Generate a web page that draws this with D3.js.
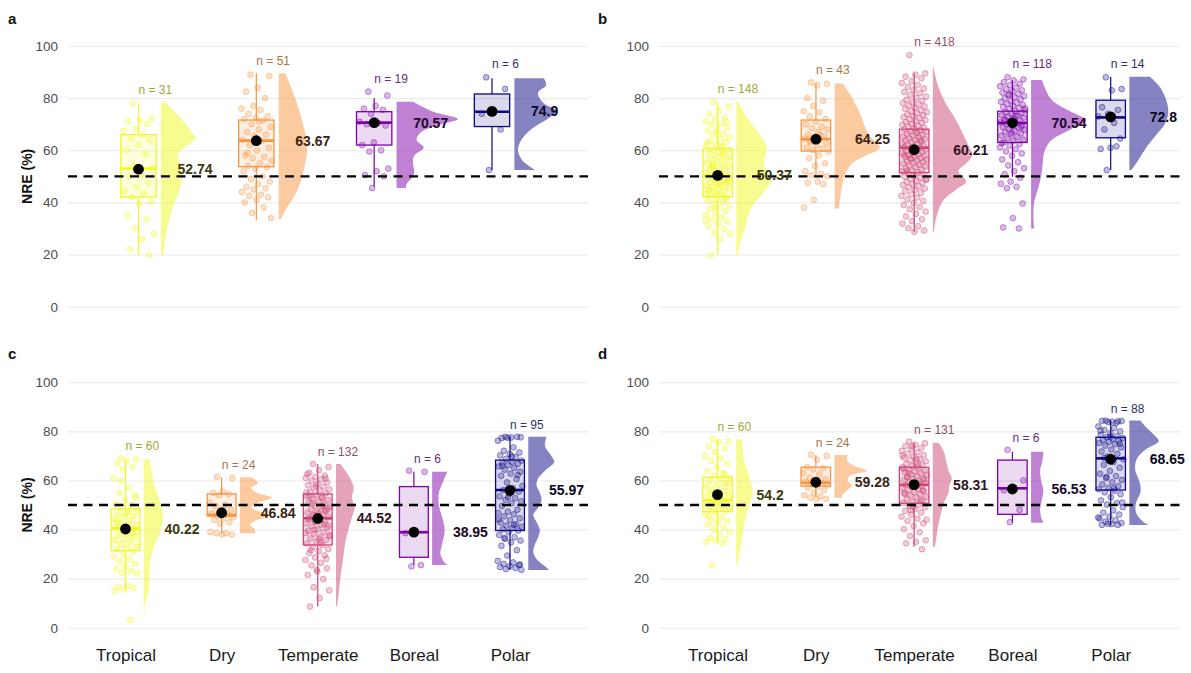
<!DOCTYPE html>
<html>
<head>
<meta charset="utf-8">
<script src="https://cdn.jsdelivr.net/npm/d3@7"></script>
<style>
  body { margin: 0; background: #fff; }
  svg text { font-family: "Liberation Sans", Arial, Helvetica, sans-serif; }
</style>
</head>
<body>
<div id="chart"></div>
<script>
// Step 1: Data
//= ================================
var yTicks = [0, 20, 40, 60, 80, 100];
var threshold = 50;

// panel a
var aCats = ["Tropical", "Dry", "Boreal", "Polar"];
var aN = [31, 51, 19, 6];
var aMean = [52.74, 63.67, 70.57, 74.9];
// [lower whisker, q1, median, q3, upper whisker]
var aBox = [[19.8, 42, 53, 66, 78.3], [33.2, 53.7, 63.7, 71.6, 89.5], [46, 62, 70.6, 74.8, 80], [52.4, 69.1, 74.8, 81.6, 87.6]];
var aPts = [
  [78, 72, 71.5, 71, 70, 68, 67.5, 66, 64.5, 64, 62, 60, 58.5, 54, 53, 50.5, 50, 47.5, 46, 44.5, 43.5, 42, 40, 39.5, 35, 33.5, 30, 28, 26, 22, 20],
  [89, 88.5, 84, 82.5, 80, 77, 76, 75.5, 74, 73, 72.5, 72, 71.5, 70, 69, 68, 67, 66, 65.5, 64, 63.5, 62, 61, 60, 58, 57.5, 57, 56, 55, 54, 53.5, 53, 52, 50, 49, 48, 47, 46, 45.5, 45, 44, 43, 42.5, 42, 41, 40, 38, 36, 34, 71, 59],
  [82.5, 81, 77, 76, 75.5, 74, 71, 70.5, 70, 69.5, 63, 62, 60, 59.5, 53, 52, 50.5, 50, 45.5],
  [88, 83.5, 75.5, 74, 68, 52.4]
];
// density profiles: [value, width in % of category step]
var aDens = [
  [[78.3, 4], [72, 17.5], [68, 24.5], [64.6, 29], [61, 20], [58.8, 14.7], [55, 16], [51, 18], [45, 16], [38.4, 10.5], [30.7, 5.7], [25, 3.4], [19.8, 2]],
  [[89.5, 5.7], [80, 14], [72, 19.5], [66, 22.7], [60, 24], [52, 21], [46, 17], [42, 12.7], [38, 6.8], [33.5, 1.7]],
  [[78.6, 14], [75, 30], [72, 52], [70, 38], [67, 21], [64, 17], [61, 23], [58, 15], [55, 14], [52, 15], [50, 14], [47, 8.5], [45.5, 8]],
  [[87.6, 25], [85, 27], [82, 20], [78, 25], [75, 36], [72, 28], [68, 14], [64, 6], [60, 3], [56, 7], [52.4, 18]]
];

// panel b
var bCats = ["Tropical", "Dry", "Temperate", "Boreal", "Polar"];
var bN = [148, 43, 418, 118, 14];
var bMean = [50.37, 64.25, 60.21, 70.54, 72.8];
var bBox = [[19.8, 42.2, 50.2, 60.7, 78.6], [49.8, 59.7, 64.3, 71.6, 85.6], [28.7, 51.4, 61, 68.1, 89.5], [49.8, 63, 70.5, 75, 86.9], [52.4, 64.8, 72.6, 79.2, 88.2]];
var bPts = [
  [78.4, 76.9, 75.2, 73.8, 72.6, 71.9, 71.1, 70.3, 69.8, 68.7, 68.1, 67.4, 66.2, 65.7, 65.1, 64.3, 63.6, 63.2, 62.4, 61.8, 61.3, 60.7, 60.2, 59.6, 59.1, 58.8, 58.2, 57.5, 57.1, 56.6, 56.2, 55.8, 55.3, 54.7, 54.4, 53.9, 53.2, 52.8, 52.5, 51.9, 51.4, 51.1, 50.6, 50.3, 49.8, 49.5, 49.1, 48.7, 48.4, 48.1, 47.7, 47.3, 47.0, 46.6, 46.2, 45.9, 45.5, 45.1, 44.6, 44.2, 43.8, 43.3, 42.9, 42.4, 41.8, 41.2, 40.6, 40.1, 39.4, 38.7, 38.1, 37.4, 36.6, 35.9, 35.1, 34.2, 33.5, 32.6, 31.8, 30.9, 29.7, 28.6, 27.9, 26.1, 19.8, 70.8, 66.9, 62.9, 58.4, 54.1, 49.3, 46.9, 44.9, 41.5, 37.9, 33.1, 61.6, 53.6, 47.9, 43.1],
  [86, 85.5, 85, 80, 79, 77, 75, 74.5, 73, 72, 71, 70, 69, 68.5, 68, 67, 66, 65.5, 65, 64.5, 64, 63, 62.5, 62, 61, 60.5, 60, 59.5, 58, 57, 55, 54, 52, 51, 50.5, 50, 48, 47.5, 47, 41, 38, 66, 63.5],
  [96.5, 89.5, 89, 88.2, 87.6, 86.5, 85.8, 85.1, 84.3, 83.7, 83.1, 82.4, 81.9, 81.2, 80.6, 80.1, 79.4, 79.0, 78.5, 78.1, 77.6, 77.2, 76.8, 76.3, 75.9, 75.4, 75.0, 74.6, 74.2, 73.8, 73.4, 73.1, 72.7, 72.3, 71.9, 71.6, 71.2, 70.8, 70.5, 70.1, 69.8, 69.4, 69.1, 68.7, 68.4, 68.0, 67.7, 67.3, 67.0, 66.6, 66.3, 66.0, 65.6, 65.3, 65.0, 64.6, 64.3, 64.0, 63.7, 63.3, 63.0, 62.7, 62.4, 62.1, 61.8, 61.5, 61.2, 60.9, 60.6, 60.3, 60.0, 59.7, 59.4, 59.1, 58.8, 58.5, 58.2, 57.9, 57.6, 57.3, 57.0, 56.7, 56.4, 56.1, 55.8, 55.5, 55.2, 54.9, 54.5, 54.2, 53.8, 53.5, 53.1, 52.7, 52.3, 51.9, 51.5, 51.1, 50.7, 50.3, 49.9, 49.5, 49.1, 48.7, 48.3, 47.9, 47.5, 47.1, 46.7, 46.2, 45.8, 45.3, 44.8, 44.3, 43.7, 43.1, 42.5, 41.9, 41.2, 40.5, 39.8, 39.0, 38.2, 37.4, 36.5, 35.6, 34.6, 33.5, 32.8, 31.9, 30.9, 30.1, 29.2, 28.7, 58.1, 63.9, 56.9, 48.9, 66.9, 52.1],
  [88, 87.2, 86.8, 86.1, 85.5, 85.0, 84.6, 84.1, 83.5, 83.0, 82.6, 82.1, 81.7, 81.2, 80.8, 80.3, 79.9, 79.5, 79.0, 78.6, 78.2, 77.8, 77.4, 77.0, 76.6, 76.2, 75.8, 75.4, 75.0, 74.6, 74.3, 73.9, 73.5, 73.2, 72.8, 72.5, 72.1, 71.8, 71.4, 71.1, 70.7, 70.4, 70.0, 69.7, 69.3, 68.9, 68.6, 68.2, 67.8, 67.4, 67.0, 66.5, 66.1, 65.6, 65.1, 64.6, 64.1, 63.6, 63.0, 62.4, 61.8, 61.1, 60.4, 59.6, 58.8, 57.9, 56.5, 55.4, 54.2, 53.1, 52.0, 50.8, 49.5, 48.0, 47.2, 46.0, 45.5, 39.6, 34.0, 30.4, 30.0, 81.5, 76.1, 73.3, 71.5, 69.0, 66.8, 62.8],
  [88, 83.5, 83, 76.5, 75.5, 74, 73, 70.5, 68, 64.5, 61, 60.5, 61.5, 52.4]
];
var bDens = [
  [[78.6, 2], [72, 12], [66, 24], [61, 31], [56, 28], [52, 30], [48, 35], [44, 28], [40, 19], [35, 12], [30, 9], [25, 4], [19.8, 1.5]],
  [[85.6, 8.5], [80, 18], [74, 26], [68, 32], [64, 39], [61, 46], [58, 32], [55, 18], [50, 10], [45, 7], [40, 5], [37.7, 4.5]],
  [[92, 0.5], [85, 5], [78, 13], [72, 23], [66, 31], [62, 36], [58, 40], [55, 34], [52, 26], [48, 34], [45, 24], [41, 11], [35, 4], [28.7, 1]],
  [[87, 11], [84, 14], [80, 19.5], [77, 29.5], [74, 45], [71.5, 56], [68, 40], [64, 21], [60, 14], [56, 12], [52, 11], [48, 9], [44, 6], [40, 3], [35, 2.3], [30, 3]],
  [[88.2, 21], [85, 29.5], [82, 34.5], [78, 38.5], [74, 39.5], [70, 36], [66, 27.5], [62, 19], [58, 12], [55, 7], [52.4, 2]]
];

// panel c
var cCats = ["Tropical", "Dry", "Temperate", "Boreal", "Polar"];
var cN = [60, 24, 132, 6, 95];
var cMean = [40.22, 46.84, 44.52, 38.95, 55.97];
var cBox = [[15.4, 31.4, 40.5, 48.4, 68.6], [38.5, 45.5, 46.0, 54.5, 61.3], [8.6, 33.7, 44.6, 54.5, 66.7], [25.6, 28.7, 38.9, 57.5, 63.6], [23.5, 39.6, 56.1, 68.3, 77.8]];
var cPts = [
  [69, 68.5, 68, 67, 65.5, 64.5, 61, 57, 55, 54, 52, 50.5, 50, 49, 48, 47, 46, 45.5, 45, 44, 43.5, 42.5, 42, 41, 40.5, 40, 39.5, 39, 38, 37.5, 37, 36, 35.5, 35, 34, 33, 32.5, 32, 31, 30, 29, 28, 27, 26, 25, 24, 23, 22.5, 22, 17, 16.5, 16, 15.5, 15, 3, 60, 53, 46.5, 43, 38.5],
  [61.5, 61, 55.5, 55, 54.5, 54, 51, 50, 49.5, 48, 47, 46.5, 46, 45.5, 45, 44.5, 44, 43, 42.5, 39, 38.5, 38.5, 38, 38],
  [66.7, 65.5, 64.2, 63.1, 62.0, 61.5, 61.0, 60.4, 59.9, 59.2, 58.6, 58.0, 57.5, 57.0, 56.4, 55.9, 55.3, 54.8, 54.2, 53.7, 53.1, 52.6, 52.0, 51.5, 51.0, 50.4, 49.9, 49.4, 48.9, 48.3, 47.8, 47.3, 46.8, 46.2, 45.7, 45.2, 44.7, 44.1, 43.6, 43.0, 42.5, 41.9, 41.3, 40.7, 40.1, 39.5, 38.9, 38.3, 37.7, 37.0, 36.4, 35.7, 35.0, 34.3, 33.6, 32.8, 32.0, 31.2, 30.4, 29.5, 28.6, 27.6, 26.5, 25.4, 24.2, 22.9, 21.5, 19.8, 16.5, 15.2, 12.1, 8.6, 60.8, 57.8, 55.1, 52.9, 50.7, 48.6, 46.5, 44.4, 42.2, 39.9, 37.3, 34.7, 31.6, 28.1, 23.6, 62.6, 49.6, 45.9, 41.6, 36.1, 53.4, 47.5, 43.3, 38.6],
  [64, 63.5, 39.5, 38.5, 25.5, 25],
  [77.8, 77.6, 77.5, 77.3, 77.8, 77.4, 76.2, 73.5, 72.1, 71.4, 70.8, 70.2, 69.5, 68.8, 68.1, 67.6, 67.2, 66.8, 66.3, 65.7, 65.1, 64.4, 63.6, 62.8, 61.9, 60.6, 59.2, 57.8, 56.9, 56.1, 55.4, 54.6, 53.5, 52.8, 52.1, 51.5, 50.7, 49.6, 48.1, 47.3, 46.8, 46.2, 45.4, 44.6, 43.8, 42.9, 42.2, 41.6, 41.1, 40.6, 40.1, 39.6, 38.9, 37.8, 36.9, 36.2, 35.5, 34.8, 33.4, 31.6, 29.4, 27.2, 26.6, 26.0, 25.5, 25.1, 24.7, 24.3, 23.9, 23.6, 69.9, 66.0, 62.2, 53.2, 44.1, 41.9, 36.6, 25.8]
];
var cDens = [
  [[68.6, 6], [64, 8.3], [58, 11], [54, 14.5], [50, 18], [45, 20], [40, 18], [35, 12.8], [30, 8.3], [25, 6], [20, 6], [15, 4.9], [10, 1.4], [3, 0.3]],
  [[61.3, 12], [59, 18.7], [57, 12], [55, 17.4], [53, 33], [51, 18.7], [49, 12], [47, 22.6], [45.5, 31], [44, 18.7], [42, 10.4], [40, 15.6], [38.5, 15.6]],
  [[66.7, 4.5], [62, 13], [57, 18.4], [53, 16.6], [49, 19.4], [45, 16.6], [40, 13], [35, 9.7], [30, 8], [25, 6.2], [20, 4.5], [14, 2.8], [8.6, 1]],
  [[63.6, 15.6], [60, 12], [55, 7], [50, 7], [45, 10.4], [40, 13], [35, 11], [30, 8.6], [27, 12], [25.6, 15.6]],
  [[77.8, 19], [74, 17.4], [70, 24], [67.5, 27], [64, 17.4], [61, 10.4], [58, 8.6], [55, 12], [52, 13.8], [49, 10.4], [46, 5.2], [43, 8.6], [40, 12], [37, 10.4], [34, 7], [31, 5.2], [28, 8.6], [25, 17.4], [23.5, 21.5]]
];

// panel d
var dCats = ["Tropical", "Dry", "Temperate", "Boreal", "Polar"];
var dN = [60, 24, 131, 6, 88];
var dMean = [54.2, 59.28, 58.31, 56.53, 68.65];
var dBox = [[35.1, 47.3, 52, 61.3, 76.8], [53.4, 57.7, 59.1, 65.4, 70.4], [33.0, 50.7, 58.2, 65.4, 75.4], [42.8, 46.2, 56.8, 68.3, 71.7], [41.9, 56.1, 69.0, 77.6, 84.4]];
var dPts = [
  [76.8, 76, 75.5, 74, 73, 71.5, 70, 69, 68, 67, 65.5, 64, 63, 62, 61, 60.5, 60, 59, 58, 57.5, 57, 56, 55.5, 55, 54.5, 54, 53.5, 53, 52.5, 52, 51.5, 51, 50.5, 50, 49.5, 49, 48.5, 48, 47.5, 47, 46, 45, 44, 43.5, 43, 42, 41, 40, 39, 38, 36.5, 36, 35.5, 35, 34.5, 25.6, 58.5, 50.8, 45.5, 62.5],
  [70.5, 70, 68.5, 65.5, 65, 64.5, 63, 62.5, 61, 60.5, 60, 59.5, 59, 58.5, 58, 57.5, 57, 56, 55, 54, 53.5, 53, 52.5, 52.5],
  [75.8, 75.2, 74.6, 74.0, 73.3, 72.7, 72.1, 71.5, 70.9, 70.4, 69.8, 69.3, 68.8, 68.3, 67.8, 67.3, 66.8, 66.3, 65.9, 65.4, 65.0, 64.5, 64.1, 63.7, 63.3, 62.9, 62.5, 62.1, 61.7, 61.3, 60.9, 60.5, 60.1, 59.7, 59.3, 58.9, 58.5, 58.1, 57.7, 57.3, 56.9, 56.5, 56.1, 55.7, 55.2, 54.8, 54.3, 53.9, 53.4, 52.9, 52.4, 51.9, 51.4, 50.8, 50.2, 49.6, 49.0, 48.3, 47.6, 46.9, 46.1, 45.3, 44.4, 43.5, 42.5, 41.4, 40.2, 38.9, 37.4, 35.6, 35.0, 34.4, 32.0, 73.9, 70.1, 66.1, 63.0, 60.3, 57.5, 54.6, 51.6, 47.9, 44.0, 68.6, 61.5, 55.9, 49.3, 64.8, 58.7],
  [72.5, 60, 57, 56, 48, 43],
  [84.4, 84.2, 84.0, 84.3, 84.1, 83.8, 82.0, 81.4, 80.6, 80.0, 79.3, 78.6, 78.1, 77.7, 77.3, 76.9, 76.5, 76.1, 75.7, 75.3, 74.8, 74.2, 73.5, 72.6, 71.8, 70.9, 69.8, 68.6, 67.5, 66.4, 65.2, 63.9, 62.7, 61.8, 61.0, 60.2, 59.3, 58.4, 57.7, 57.0, 56.4, 55.8, 55.2, 54.4, 53.2, 51.9, 50.8, 50.2, 49.1, 47.8, 46.9, 46.1, 45.3, 44.5, 43.8, 43.2, 42.7, 42.2, 41.9, 41.9, 42.4, 44.9, 56.8, 69.2, 75.0, 77.9, 80.3, 83.5, 61.4, 51.0]
];
var dDens = [
  [[76.8, 5.8], [72, 6.8], [68, 8], [64, 11.5], [60, 14.2], [56, 17], [52, 15], [48, 11.5], [44, 9.2], [40, 7.4], [36, 5.8], [32, 4], [28, 2.3], [25.6, 1.3]],
  [[70.4, 13], [68, 13], [66, 19.6], [64, 33], [62, 16.3], [60, 13], [58, 18], [56, 13], [54, 7.8], [53, 7.8]],
  [[75.4, 5.8], [72, 11], [68, 13.5], [64, 16], [61, 19.3], [58, 17], [55, 16], [52, 12.5], [48, 9.2], [44, 6.8], [40, 4.8], [36, 3.4], [33, 2.3]],
  [[71.7, 12.5], [68, 11.5], [64, 9.2], [60, 10.2], [56, 12.5], [52, 10.9], [48, 9.2], [45, 10.2], [42.8, 12.5]],
  [[84.4, 11.2], [82, 16.3], [78, 26.5], [76, 29.8], [73, 18], [70, 9.5], [67, 6.1], [64, 6.1], [61, 8.8], [58, 11.2], [55, 11.2], [52, 7.8], [49, 6.1], [46, 7.8], [43, 14.5], [41.9, 19.6]]
];

// Step 2: Set up the page
//= ================================
var svgWidth = 1191;
var svgHeight = 673;

var climateColor = {
  Tropical: "#F0F921",
  Dry: "#F89540",
  Temperate: "#CC4778",
  Boreal: "#7E03A8",
  Polar: "#0D0887"
};

var panels = [
  { tag: "a", cats: aCats, n: aN, mean: aMean, box: aBox, pts: aPts, dens: aDens,
    gridLeft: 68, gridRight: 588, first: 138.5, last: 492, top: 46, bottom: 306.7, yLabel: true, xLabels: false, tagX: 8, tagY: 24 },
  { tag: "b", cats: bCats, n: bN, mean: bMean, box: bBox, pts: bPts, dens: bDens,
    gridLeft: 659, gridRight: 1180, first: 717.7, last: 1110.7, top: 46, bottom: 306.7, yLabel: false, xLabels: false, tagX: 598, tagY: 24 },
  { tag: "c", cats: cCats, n: cN, mean: cMean, box: cBox, pts: cPts, dens: cDens,
    gridLeft: 68, gridRight: 588, first: 125.5, last: 510, top: 382.3, bottom: 627.7, yLabel: true, xLabels: true, tagX: 8, tagY: 359 },
  { tag: "d", cats: dCats, n: dN, mean: dMean, box: dBox, pts: dPts, dens: dDens,
    gridLeft: 659, gridRight: 1180, first: 717.5, last: 1110.7, top: 382.3, bottom: 627.7, yLabel: false, xLabels: true, tagX: 598, tagY: 359 }
];

var svg = d3.select("#chart")
  .append("svg")
  .attr("width", svgWidth)
  .attr("height", svgHeight)
  .style("background", "#fff");

// Step 3: Draw each panel
//= ================================
panels.forEach(function(p) {
  var g = svg.append("g");

  var x = d3.scalePoint().domain(p.cats).range([p.first, p.last]);
  var step = x.step();
  var y = d3.scaleLinear().domain([0, 100]).range([p.bottom, p.top]);

  // gridlines + y tick labels
  var yAxis = d3.axisLeft(y)
    .tickValues(yTicks)
    .tickSize(-(p.gridRight - p.gridLeft))
    .tickPadding(10);
  var yg = g.append("g")
    .attr("transform", `translate(${p.gridLeft},0)`)
    .call(yAxis);
  yg.select(".domain").remove();
  yg.selectAll("line").attr("stroke", "#ebebeb").attr("stroke-width", 1.1);
  yg.selectAll("text").attr("fill", "#4d4d4d").style("font-size", "13.5px");

  // x category labels
  if (p.xLabels) {
    var xg = g.append("g")
      .attr("transform", `translate(0,${p.bottom})`)
      .call(d3.axisBottom(x).tickSize(0).tickPadding(21));
    xg.select(".domain").remove();
    xg.selectAll("text").attr("fill", "#1a1a1a").style("font-size", "17px");
  }

  if (p.yLabel) {
    g.append("text")
      .attr("transform", `translate(32,${(p.top + p.bottom) / 2}) rotate(-90)`)
      .attr("text-anchor", "middle")
      .style("font-size", "14px")
      .style("font-weight", "bold")
      .attr("fill", "#111")
      .text("NRE (%)");
  }

  g.append("text")
    .attr("x", p.tagX)
    .attr("y", p.tagY)
    .style("font-size", "15px")
    .style("font-weight", "bold")
    .attr("fill", "#111")
    .text(p.tag);

  var groups = p.cats.map(function(c, i) {
    return { cat: c, n: p.n[i], mean: p.mean[i], box: p.box[i], pts: p.pts[i], dens: p.dens[i] };
  });

  // half violins
  groups.forEach(function(d) {
    var base = x(d.cat) + 0.19 * step;
    var area = d3.area()
      .curve(d3.curveCatmullRom)
      .y(e => y(e[0]))
      .x0(base)
      .x1(e => base + e[1] / 100 * step);
    g.append("path")
      .datum(d.dens)
      .attr("d", area)
      .attr("fill", climateColor[d.cat])
      .attr("fill-opacity", 0.5);
  });

  // boxplots
  var bw = 0.3 * step;
  groups.forEach(function(d) {
    var col = climateColor[d.cat];
    var xc = x(d.cat);
    var b = d.box;
    g.append("line")
      .attr("x1", xc).attr("x2", xc)
      .attr("y1", y(b[0])).attr("y2", y(b[1]))
      .attr("stroke", col).attr("stroke-width", 1.2);
    g.append("line")
      .attr("x1", xc).attr("x2", xc)
      .attr("y1", y(b[3])).attr("y2", y(b[4]))
      .attr("stroke", col).attr("stroke-width", 1.2);
    g.append("rect")
      .attr("x", xc - bw / 2)
      .attr("y", y(b[3]))
      .attr("width", bw)
      .attr("height", y(b[1]) - y(b[3]))
      .attr("fill", col).attr("fill-opacity", 0.15)
      .attr("stroke", col).attr("stroke-width", 1.3);
  });

  // jittered raw points (deterministic spread)
  groups.forEach(function(d) {
    var col = climateColor[d.cat];
    var xc = x(d.cat);
    g.append("g").selectAll("circle")
      .data(d.pts)
      .enter()
      .append("circle")
      .attr("cx", (v, i) => xc + (((i * 0.6180339887 + 0.31) % 1) - 0.5) * 0.26 * step)
      .attr("cy", v => y(v))
      .attr("r", 2.9)
      .attr("fill", col).attr("fill-opacity", 0.28)
      .attr("stroke", col).attr("stroke-opacity", 0.5).attr("stroke-width", 0.8);
  });

  // medians on top of points
  groups.forEach(function(d) {
    var xc = x(d.cat);
    g.append("line")
      .attr("x1", xc - bw / 2).attr("x2", xc + bw / 2)
      .attr("y1", y(d.box[2])).attr("y2", y(d.box[2]))
      .attr("stroke", climateColor[d.cat]).attr("stroke-width", 2.6);
  });

  // threshold line
  g.append("line")
    .attr("x1", p.gridLeft).attr("x2", p.gridRight)
    .attr("y1", y(threshold)).attr("y2", y(threshold))
    .attr("stroke", "#000")
    .attr("stroke-width", 2.3)
    .attr("stroke-dasharray", "9,6.5");

  // means, mean labels, n labels
  groups.forEach(function(d) {
    var col = climateColor[d.cat];
    var xc = x(d.cat);
    g.append("circle")
      .attr("cx", xc).attr("cy", y(d.mean))
      .attr("r", 5.4)
      .attr("fill", "#000");
    g.append("text")
      .attr("x", xc + 39)
      .attr("y", y(d.mean))
      .attr("dy", "0.35em")
      .style("font-size", "14px")
      .style("font-weight", "bold")
      .attr("fill", d3.interpolateRgb(d3.color(col).darker(3), "#111")(0.4))
      .text(d.mean);
    var top = Math.max(d3.max(d.pts), d.box[4], d.dens[0][0]);
    g.append("text")
      .attr("x", xc)
      .attr("y", y(top + 5))
      .attr("dy", "0.35em")
      .style("font-size", "12px")
      .attr("fill", d3.interpolateRgb(col, "#555")(0.5))
      .text(`n = ${d.n}`);
  });
});
</script>
</body>
</html>
